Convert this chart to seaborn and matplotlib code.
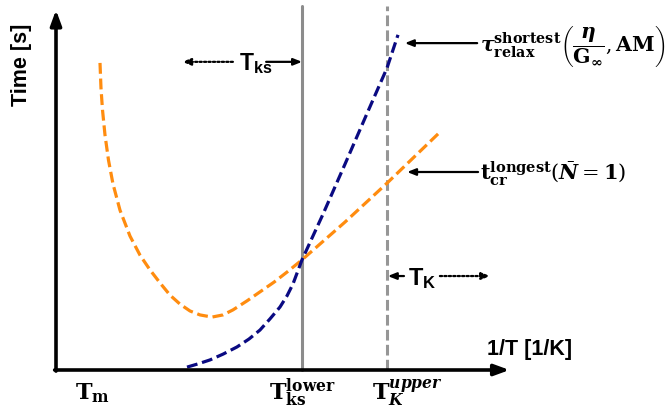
import numpy as np
import pandas as pd
import matplotlib
matplotlib.use('Agg')
import matplotlib.pyplot as plt
import seaborn as sns

# datos (unidades arbitrarias, 1/T en x, tiempo en y)
x_naranja = [0.980, 1.002, 1.036, 1.091, 1.169, 1.269, 1.425, 1.648, 1.871, 2.094, 2.316, 2.539,
             2.762, 2.984, 3.207, 3.474, 3.719, 3.942, 4.254, 4.543, 4.855, 5.145, 5.479, 6.437,
             7.372, 8.552]
y_naranja = [8.53, 7.83, 7.22, 6.53, 5.83, 5.17, 4.44, 3.72, 3.19, 2.78, 2.42, 2.08,
             1.83, 1.64, 1.53, 1.47, 1.53, 1.67, 1.92, 2.17, 2.44, 2.72, 3.06, 4.11,
             5.19, 6.61]
x_azul = [2.918, 3.163, 3.430, 3.719, 4.031, 4.298, 4.543, 4.766, 4.989, 5.145, 5.278, 5.479,
          5.947, 6.437, 6.904, 7.372, 7.617]
y_azul = [0.08, 0.17, 0.28, 0.44, 0.64, 0.86, 1.11, 1.42, 1.75, 2.06, 2.39, 3.06,
          4.33, 5.72, 7.06, 8.39, 9.31]

x_tm = 0.82
x_ks_lower = 5.48
x_k_upper = 7.37

naranja = pd.DataFrame({'x': x_naranja, 'y': y_naranja})
azul = pd.DataFrame({'x': x_azul, 'y': y_azul})

sns.set_style('white')
plt.rcParams['text.color'] = 'black'
plt.rcParams['mathtext.fontset'] = 'custom'
plt.rcParams['mathtext.rm'] = 'DejaVu Serif'
plt.rcParams['mathtext.bf'] = 'DejaVu Serif:bold'
plt.rcParams['mathtext.it'] = 'DejaVu Serif:italic'
plt.rcParams['mathtext.bfit'] = 'DejaVu Serif:bold:italic'
plt.rcParams['mathtext.sf'] = 'Liberation Sans:bold'
plt.rcParams['font.family'] = ['Liberation Sans', 'DejaVu Sans']

fig = plt.figure(figsize=(6.68, 4.12), dpi=100)
ax = fig.add_axes([56/668, 42/412, 449/668, 360/412])

# lineas verticales
ax.axvline(x_ks_lower, ymax=1.01, color='#8c8c8c', lw=2.2, clip_on=False)
ax.axvline(x_k_upper, ymax=1.01, color='#969696', lw=2.2, ls=(0, (3.5, 1.4)), clip_on=False)

sns.lineplot(data=naranja, x='x', y='y', ax=ax, color='#ff8c0f', lw=2.3,
             sort=False, estimator=None, dashes=False)
sns.lineplot(data=azul, x='x', y='y', ax=ax, color='#0a0a82', lw=2.3,
             sort=False, estimator=None, dashes=False)
for l in ax.lines[2:]:
    l.set_linestyle((0, (3.4, 1.5)))

ax.set_xlim(0, 10)
ax.set_ylim(0, 10)
for s in ax.spines.values():
    s.set_visible(False)
ax.set_xlabel('')
ax.set_ylabel('')
ax.set_xticks([x_tm])
ax.set_xticklabels([''])
ax.tick_params(axis='x', direction='in', length=8, width=2, color='black')
ax.set_yticks([])

# ejes con flecha
flecha = dict(arrowstyle='-|>,head_length=0.9,head_width=0.33', lw=2.6, color='black',
              shrinkA=0, shrinkB=0)
ax.annotate('', xy=(10.1, 0), xytext=(-0.03, 0), arrowprops=flecha, annotation_clip=False)
ax.annotate('', xy=(0, 10), xytext=(0, -0.03), arrowprops=flecha, annotation_clip=False)

ax.text(-0.76, 8.47, 'Time [s]', rotation=90, ha='center', va='center',
        fontsize=15.5, fontweight='bold')
ax.text(9.6, 0.56, '1/T [1/K]', ha='left', va='center', fontsize=15.5, fontweight='bold')

# etiquetas del eje x
ax.text(x_tm, -0.64, r'$\mathbf{T}_{\mathbf{m}}$', ha='center', va='center', fontsize=16)
ax.text(x_ks_lower, -0.64, r'$\mathbf{T}_{\mathbf{ks}}^{\mathbf{lower}}$', ha='center', va='center', fontsize=16)
ax.text(x_k_upper - 0.33, -0.64, r'$\mathbf{T}_{\mathbfit{K}}^{\mathbfit{upper}}$', ha='left', va='center', fontsize=16)

# anotaciones
punteada = dict(arrowstyle='-|>,head_length=0.5,head_width=0.2', lw=1.6, ls=(0, (1, 1)),
                color='black', shrinkA=0, shrinkB=0)
solida = dict(arrowstyle='-|>,head_length=0.5,head_width=0.2', lw=1.6, color='black',
              shrinkA=0, shrinkB=0)

ax.annotate('', xy=(2.81, 8.56), xytext=(3.94, 8.56), arrowprops=punteada)
ax.text(4.08, 8.5, r'$\mathsf{T}_{\mathsf{ks}}$', ha='left', va='center', fontsize=16.5)
ax.annotate('', xy=(5.48, 8.56), xytext=(4.68, 8.56), arrowprops=solida)

ax.annotate('', xy=(7.39, 2.61), xytext=(7.75, 2.61), arrowprops=solida)
ax.text(7.84, 2.55, r'$\mathsf{T}_{\mathsf{K}}$', ha='left', va='center', fontsize=17)
ax.annotate('', xy=(9.67, 2.61), xytext=(8.55, 2.61), arrowprops=punteada, annotation_clip=False)

ax.annotate('', xy=(7.77, 9.08), xytext=(9.38, 9.08), arrowprops=solida, annotation_clip=False)
ax.text(9.44, 9.0,
        r'$\boldsymbol{\tau}_{\mathbf{relax}}^{\mathbf{shortest}}\left(\dfrac{\boldsymbol{\eta}}{\mathbf{G}_{\boldsymbol{\infty}}},\mathbf{AM}\right)$',
        ha='left', va='center', fontsize=14.7)
ax.annotate('', xy=(7.82, 5.5), xytext=(9.40, 5.5), arrowprops=solida, annotation_clip=False)
ax.text(9.44, 5.45, r'$\mathbf{t}_{\mathbf{cr}}^{\mathbf{longest}}(\bar{\mathbfit{N}} = \mathbf{1})$',
        ha='left', va='center', fontsize=15)

fig.savefig('out.png', dpi=100)
